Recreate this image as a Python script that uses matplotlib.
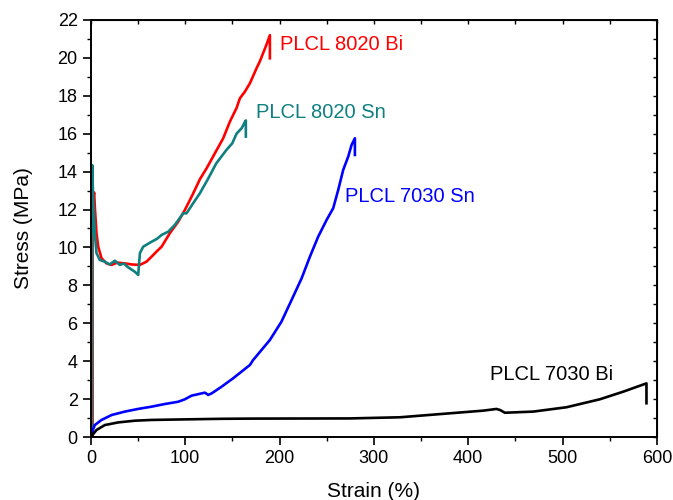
import matplotlib
matplotlib.use("Agg")
import matplotlib.pyplot as plt
from matplotlib.ticker import MultipleLocator

plt.rcParams['font.family'] = ['Liberation Sans', 'DejaVu Sans']

# PLCL 8020 Bi (red)
bi8020_strain = [1.8, 1.8, 3.5, 4.2, 6.0, 7.8, 11.3, 16.6, 21.9, 28, 36, 44, 52, 59, 64.3,
                 69.6, 75, 83.7, 92.6, 99.7, 108, 115.6, 123, 131.5, 140.3, 147.4, 154.4,
                 158, 163.3, 168.6, 175.6, 179, 186.2, 189.8, 189.8]
bi8020_stress = [0.0, 12.4, 12.9, 12.15, 10.75, 10.04, 9.43, 9.16, 9.08, 9.2, 9.16, 9.1, 9.08,
                 9.25, 9.51, 9.78, 10.04, 10.75, 11.36, 11.98, 12.8, 13.6, 14.2, 14.97, 15.76,
                 16.64, 17.35, 17.87, 18.22, 18.66, 19.45, 19.8, 20.7, 21.2, 19.98]

# PLCL 8020 Sn (teal)
sn8020_strain = [1.0, 1.4, 2.5, 4.2, 6.0, 9.5, 14.8, 20, 25.4, 30.7, 35, 39.6, 46.6, 50.2,
                 52, 55.5, 64.3, 70, 75, 82, 89, 97.9, 101.4, 108, 115.6, 124, 133, 143.8,
                 150, 154.4, 160, 163.5, 164.3, 164.3]
sn8020_stress = [0.0, 14.35, 12.5, 10.75, 9.7, 9.34, 9.25, 9.1, 9.3, 9.08, 9.15, 8.95, 8.72,
                 8.55, 9.7, 10.04, 10.3, 10.45, 10.66, 10.83, 11.19, 11.8, 11.8, 12.3, 12.86,
                 13.6, 14.44, 15.15, 15.5, 16.0, 16.3, 16.64, 16.7, 15.85]

# PLCL 7030 Sn (blue)
sn7030_strain = [0.0, 0.7, 4.2, 11.3, 22, 36, 50, 64.3, 78.4, 92.6, 99.7, 106.7, 120.9, 124.4,
                 128, 138.5, 150.9, 168.6, 172, 189.8, 202, 212.8, 223.4, 232.2, 241, 249.9,
                 256.9, 262.2, 267.5, 272.8, 276.4, 279.9, 279.9]
sn7030_stress = [0.1, 0.19, 0.63, 0.9, 1.16, 1.34, 1.48, 1.6, 1.74, 1.86, 1.99, 2.18, 2.34,
                 2.22, 2.3, 2.65, 3.1, 3.8, 4.06, 5.12, 6.08, 7.23, 8.37, 9.51, 10.57, 11.45,
                 12.07, 13.03, 14.09, 14.79, 15.41, 15.76, 14.88]

# PLCL 7030 Bi (black)
bi7030_strain = [0.0, 6.0, 14.8, 29, 46.6, 64.3, 99.7, 138.5, 168.6, 274.6, 327.6, 380.6,
                 415.9, 430, 434, 438.9, 468.9, 504.3, 539.6, 564.3, 589, 589]
bi7030_stress = [0.0, 0.37, 0.63, 0.77, 0.86, 0.9, 0.93, 0.96, 0.97, 0.98, 1.04, 1.25,
                 1.39, 1.48, 1.42, 1.28, 1.34, 1.57, 1.99, 2.39, 2.83, 1.78]

series = [
    (bi8020_strain, bi8020_stress, "red", "PLCL 8020 Bi", (200, 20.7)),
    (sn8020_strain, sn8020_stress, "#0f8080", "PLCL 8020 Sn", (175, 17.1)),
    (sn7030_strain, sn7030_stress, "blue", "PLCL 7030 Sn", (269, 12.7)),
    (bi7030_strain, bi7030_stress, "black", "PLCL 7030 Bi", (423, 3.3)),
]

fig = plt.figure(figsize=(6.73, 5.0), dpi=100)
ax = fig.add_axes([0.135, 0.126, 0.841, 0.834])

for xs, ys, color, name, pos in series:
    ax.plot(xs, ys, color=color, lw=1.9, solid_joinstyle='round')
    ax.text(pos[0], pos[1], name, color=color, fontsize=14.5, va='center', ha='left')

ax.set_xlim(0, 600)
ax.set_ylim(0, 22)
ax.xaxis.set_major_locator(MultipleLocator(100))
ax.xaxis.set_minor_locator(MultipleLocator(50))
ax.yaxis.set_major_locator(MultipleLocator(2))
ax.yaxis.set_minor_locator(MultipleLocator(1))
ax.tick_params(which='major', direction='out', length=6, width=1.2, labelsize=13)
ax.tick_params(which='minor', direction='out', length=3, width=1.0)
ax.set_xlabel("Strain (%)", fontsize=15, labelpad=11)
ax.set_ylabel("Stress (MPa)", fontsize=15, labelpad=18)
for sp in ax.spines.values():
    sp.set_linewidth(1.4)

top = ax.secondary_xaxis('top')
top.xaxis.set_major_locator(MultipleLocator(50))
top.tick_params(direction='in', length=3, width=1.0, labeltop=False)
right = ax.secondary_yaxis('right')
right.yaxis.set_major_locator(MultipleLocator(1))
right.tick_params(direction='in', length=3, width=1.0, labelright=False)

fig.savefig("out.png", dpi=100)
